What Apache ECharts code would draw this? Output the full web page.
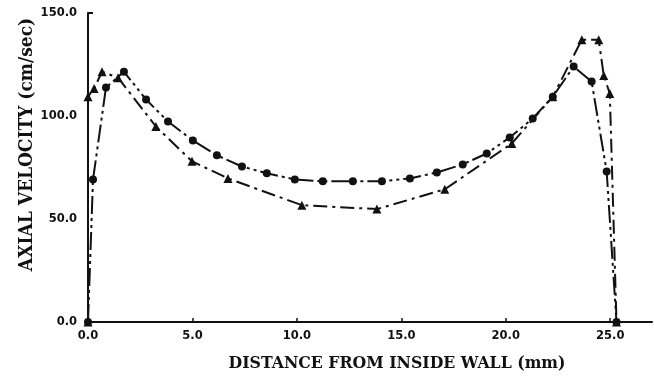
<!DOCTYPE html>
<html>
<head>
<meta charset="utf-8">
<script src="https://cdn.jsdelivr.net/npm/echarts@6/dist/echarts.min.js"></script>
<style>
  html, body { margin: 0; padding: 0; background: #fff; }
  #chart { width: 654px; height: 377px; }
</style>
</head>
<body>
<div id="chart"></div>
<script>
// velocity profile
var circleDist = [0, 0.24, 0.86, 1.72, 2.78, 3.83, 5.02, 6.17, 7.37, 8.56, 9.9, 11.24, 12.68, 14.07, 15.41, 16.7, 17.94, 19.09, 20.19, 21.29, 22.25, 23.25, 24.11, 24.83, 25.3];
var circleVel  = [0, 69.2, 113.8, 121.5, 108, 97.3, 88.1, 80.9, 75.5, 72.2, 69.2, 68.3, 68.3, 68.3, 69.7, 72.6, 76.5, 81.8, 89.6, 98.8, 109.4, 124, 116.7, 73.1, 0];

var triDist = [0, 0, 0.29, 0.67, 1.44, 3.25, 4.98, 6.7, 10.24, 13.83, 17.08, 20.29, 22.25, 23.64, 24.45, 24.69, 24.98, 25.3];
var triVel  = [0, 109.4, 113.3, 121.5, 118.6, 94.9, 78, 69.7, 56.7, 54.8, 64.4, 86.7, 109.4, 137, 137, 119.6, 110.9, 0];

var xTicks = [0, 5, 10, 15, 20, 25];
var yTicks = [0, 50, 100, 150];

function pairs(xs, ys) {
    var out = [];
    for (var i = 0; i < xs.length; i++) out.push([xs[i], ys[i]]);
    return out;
}

var ink = '#111';
var tickFont = { color: ink, fontFamily: 'DejaVu Sans', fontWeight: 'bold', fontSize: 11.5 };

var chart = echarts.init(document.getElementById('chart'), null, { renderer: 'canvas' });
chart.setOption({
    animation: false,
    backgroundColor: '#fff',
    grid: { left: 88, right: 2, top: 13, bottom: 54 },
    xAxis: {
        type: 'value',
        min: 0,
        max: 27,
        name: 'DISTANCE FROM INSIDE WALL (mm)',
        nameLocation: 'middle',
        nameGap: 32,
        nameMoveOverlap: false,
        nameTextStyle: {
            color: ink, fontFamily: 'DejaVu Serif Condensed', fontWeight: 'bold', fontSize: 17.5,
            padding: [0, 0, 0, 54]
        },
        axisLine: { lineStyle: { color: ink, width: 2 } },
        axisTick: { inside: true, length: 4, customValues: xTicks, lineStyle: { color: ink, width: 1.5 } },
        axisLabel: {
            customValues: xTicks,
            margin: 8,
            formatter: function (v) { return v.toFixed(1); },
            color: tickFont.color, fontFamily: tickFont.fontFamily, fontWeight: tickFont.fontWeight, fontSize: tickFont.fontSize
        },
        splitLine: { show: false }
    },
    yAxis: {
        type: 'value',
        min: 0,
        max: 150,
        interval: 50,
        name: 'AXIAL VELOCITY (cm/sec)',
        nameLocation: 'middle',
        nameGap: 51,
        nameMoveOverlap: false,
        nameTextStyle: {
            color: ink, fontFamily: 'DejaVu Serif Condensed', fontWeight: 'bold', fontSize: 19,
            padding: [0, 0, 0, 46]
        },
        axisLine: { show: true, lineStyle: { color: ink, width: 2 } },
        axisTick: { show: true, inside: true, length: 5, customValues: [150], lineStyle: { color: ink, width: 2 } },
        axisLabel: {
            customValues: yTicks,
            margin: 11,
            formatter: function (v) { return v.toFixed(1); },
            color: tickFont.color, fontFamily: tickFont.fontFamily, fontWeight: tickFont.fontWeight, fontSize: tickFont.fontSize
        },
        splitLine: { show: false }
    },
    series: [
        {
            name: 'circles',
            type: 'line',
            data: pairs(circleDist, circleVel),
            symbol: 'circle',
            symbolSize: 8,
            itemStyle: { color: ink },
            lineStyle: { color: ink, width: 2, type: [18, 4, 3, 4, 3, 4] }
        },
        {
            name: 'triangles',
            type: 'line',
            data: pairs(triDist, triVel),
            symbol: 'triangle',
            symbolSize: 9,
            itemStyle: { color: ink },
            lineStyle: { color: ink, width: 2, type: [14, 5, 3, 5] }
        }
    ]
});
</script>
</body>
</html>
